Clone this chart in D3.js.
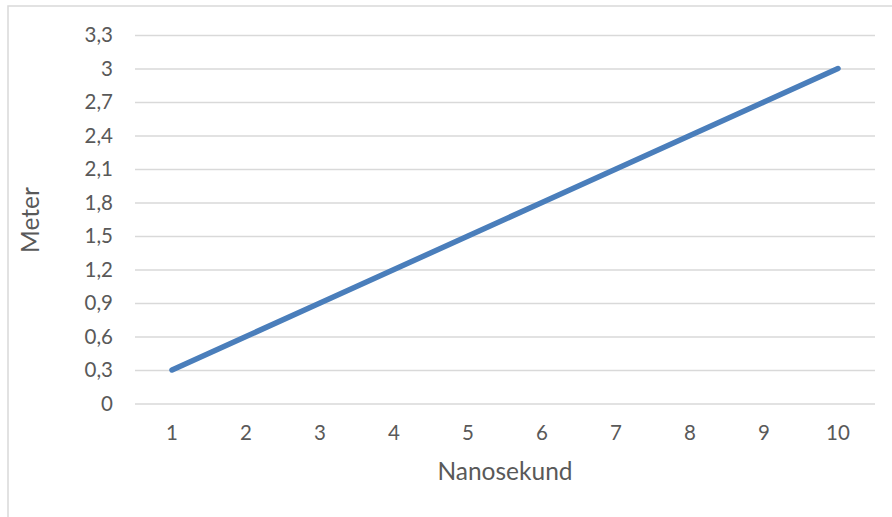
<!DOCTYPE html>
<html><head><meta charset="utf-8">
<script src="https://cdn.jsdelivr.net/npm/d3@7"></script>
<style>body{margin:0;background:#fff}svg{display:block}</style>
</head><body>
<svg id="c" width="892" height="517"></svg>
<script>
const categories = [1,2,3,4,5,6,7,8,9,10];
const meters = [0.3,0.6,0.9,1.2,1.5,1.8,2.1,2.4,2.7,3.0];
const yTicks = [0,0.3,0.6,0.9,1.2,1.5,1.8,2.1,2.4,2.7,3.0,3.3];
const xTitle = "Nanosekund";
const yTitle = "Meter";

const svg = d3.select("#c");
const font = "Lato, 'Open Sans', sans-serif";
// frame
svg.append("rect").attr("x",8).attr("y",6).attr("width",1000).attr("height",1000)
  .attr("fill","#fff").attr("stroke","#d9d9d9").attr("stroke-width",1.5);

const x = d3.scaleBand().domain(categories).range([135,875]);
const y = d3.scaleLinear().domain([0,3.3]).range([403.5,35]);
const fmt = d => d3.format(".1f")(d).replace(/\.0$/,"").replace(".",",");

const gy = svg.append("g").attr("transform","translate(135,0)")
  .call(d3.axisLeft(y).tickValues(yTicks).tickSize(-740).tickPadding(22).tickFormat(fmt));
gy.select(".domain").remove();
gy.selectAll("line").attr("stroke","#d9d9d9").attr("stroke-width",1.3);
gy.selectAll("text").attr("fill","#595959").style("font-family",font).style("font-size","20.5px");

const gx = svg.append("g").attr("transform","translate(0,403.5)")
  .call(d3.axisBottom(x).tickSize(0).tickPadding(22));
gx.select(".domain").remove();
gx.selectAll("text").attr("fill","#595959").style("font-family",font).style("font-size","20.5px");

const line = d3.line().x((d,i)=>x(categories[i])+x.bandwidth()/2).y(d=>y(d));
svg.append("path").datum(meters).attr("d",line).attr("fill","none")
  .attr("stroke","#4a7ebb").attr("stroke-width",5.5).attr("stroke-linecap","round");

svg.append("text").attr("x",505).attr("y",474).attr("text-anchor","middle").attr("dominant-baseline","middle")
  .attr("fill","#595959").style("font-family",font).style("font-size","24.5px").text(xTitle);
svg.append("text").attr("transform","translate(33,220) rotate(-90)").attr("text-anchor","middle").attr("dominant-baseline","middle")
  .attr("fill","#595959").style("font-family",font).style("font-size","24.5px").text(yTitle);
</script>
</body></html>
